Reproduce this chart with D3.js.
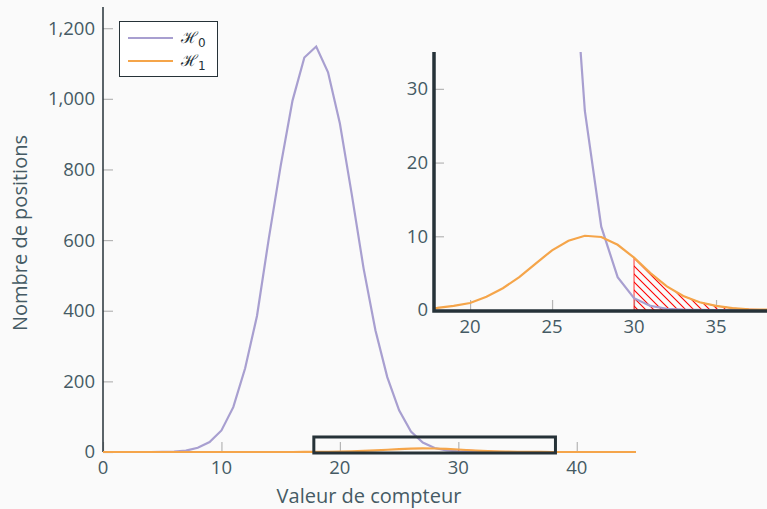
<!DOCTYPE html>
<html>
<head>
<meta charset="utf-8">
<script src="https://cdn.jsdelivr.net/npm/d3@7"></script>
<style>
  body { margin: 0; background: #fafafa; }
  svg { display: block; font-family: 'Open Sans', sans-serif; }
</style>
</head>
<body>
<svg id="chart" width="767" height="509"></svg>
<script>
// valeurs de compteur 0..45
const counts = d3.range(0, 46);
const h0 = [0, 0, 0, 0, 0, 0.3, 1, 4, 12, 28, 61, 127, 237, 385, 605, 810, 995, 1117, 1148,
  1075, 930, 730, 520, 345, 212, 118, 58, 27, 11.3, 4.45, 1.6, 0.55, 0.17, 0.05, 0.01,
  0, 0, 0, 0, 0, 0, 0, 0, 0, 0, 0];
const h1 = [0, 0, 0, 0, 0, 0, 0, 0, 0, 0, 0, 0, 0, 0, 0, 0.02, 0.05, 0.12, 0.3,
  0.55, 0.95, 1.8, 2.95, 4.45, 6.3, 8.1, 9.4, 10.07, 9.9, 8.85, 7.1, 5.0, 3.2, 1.9, 1.05,
  0.55, 0.25, 0.1, 0.05, 0.02, 0, 0, 0, 0, 0, 0];
const mainYTicks = [0, 200, 400, 600, 800, 1000, 1200];
const mainXTicks = [0, 10, 20, 30, 40];
const insetYTicks = [0, 10, 20, 30];
const insetXTicks = [20, 25, 30, 35];
const seuil = 30;
const legendLabels = ['0', '1'];

const colH0 = '#a89fd0';
const colH1 = '#f5a54a';
const dark = '#263238';
const textCol = '#455a64';

const svg = d3.select('#chart');

// hachures
const defs = svg.append('defs');
defs.append('pattern')
  .attr('id', 'hatch')
  .attr('patternUnits', 'userSpaceOnUse')
  .attr('width', 8).attr('height', 8)
  .append('path')
  .attr('d', 'M0,0L8,8M-2,6L2,10M6,-2L10,2')
  .attr('stroke', 'red').attr('stroke-width', 1.1);

const pts = counts.map((c, i) => ({ x: c, a: h0[i], b: h1[i] }));
const tail = pts.filter(d => d.x >= seuil && d.x <= 38);

// --- graphique principal ---
const x = d3.scaleLinear().domain([0, 45]).range([103, 636]);
const y = d3.scaleLinear().domain([0, 1260]).range([452, 7]);

const lineA = d3.line().x(d => x(d.x)).y(d => y(d.a));
const lineB = d3.line().x(d => x(d.x)).y(d => y(d.b));

// ticks internes gris
svg.append('g')
  .attr('transform', 'translate(103,0)')
  .call(d3.axisRight(y).tickValues(mainYTicks).tickSize(10).tickFormat(''))
  .call(g => g.select('.domain').remove())
  .call(g => g.selectAll('line').attr('stroke', '#b5b5b5').attr('stroke-width', 1.2));
svg.append('g')
  .attr('transform', 'translate(0,452)')
  .call(d3.axisTop(x).tickValues(mainXTicks).tickSize(10).tickFormat(''))
  .call(g => g.select('.domain').remove())
  .call(g => g.selectAll('line').attr('stroke', '#b5b5b5').attr('stroke-width', 1.2));

svg.append('g').selectAll('text')
  .data(mainYTicks).join('text')
  .attr('x', 95).attr('y', d => y(d)).attr('dy', '0.35em')
  .attr('text-anchor', 'end')
  .attr('font-size', 18.5).attr('fill', textCol)
  .text(d => d3.format(',')(d));
svg.append('g').selectAll('text')
  .data(mainXTicks).join('text')
  .attr('x', d => x(d)).attr('y', 474)
  .attr('text-anchor', 'middle')
  .attr('font-size', 18.5).attr('fill', textCol)
  .text(d => d);

svg.append('line')
  .attr('x1', 103).attr('x2', 103).attr('y1', 7).attr('y2', 452)
  .attr('stroke', dark).attr('stroke-width', 1.5);

svg.append('path')
  .datum(tail)
  .attr('d', d3.area().x(d => x(d.x)).y0(y(0)).y1(d => y(d.b)))
  .attr('fill', 'url(#hatch)').attr('stroke', 'red').attr('stroke-width', 0.8);

svg.append('path').datum(pts).attr('d', lineA)
  .attr('fill', 'none').attr('stroke', colH0).attr('stroke-width', 2.2);
svg.append('path').datum(pts).attr('d', lineB)
  .attr('fill', 'none').attr('stroke', colH1).attr('stroke-width', 2.2);

// cadre du zoom
svg.append('rect')
  .attr('x', x(17.8)).attr('y', y(42.5))
  .attr('width', x(38.2) - x(17.8)).attr('height', y(-2.8) - y(42.5))
  .attr('fill', 'none').attr('stroke', dark).attr('stroke-width', 3);

svg.append('text')
  .attr('transform', 'translate(27,233) rotate(-90)')
  .attr('text-anchor', 'middle')
  .attr('font-size', 20).attr('fill', textCol)
  .text('Nombre de positions');
svg.append('text')
  .attr('x', 369).attr('y', 503)
  .attr('text-anchor', 'middle')
  .attr('font-size', 20).attr('fill', textCol)
  .text('Valeur de compteur');

// légende
const leg = svg.append('g');
leg.append('rect')
  .attr('x', 119.5).attr('y', 21.5).attr('width', 98).attr('height', 55)
  .attr('fill', 'white').attr('stroke', dark).attr('stroke-width', 1);
[colH0, colH1].forEach((c, i) => {
  const ly = 38 + i * 23;
  leg.append('line')
    .attr('x1', 128).attr('x2', 173).attr('y1', ly).attr('y2', ly)
    .attr('stroke', c).attr('stroke-width', 2.2);
  const t = leg.append('text')
    .attr('x', 181).attr('y', ly + 5)
    .attr('font-size', 16).attr('fill', dark)
    .attr('font-family', 'DejaVu Serif, serif');
  t.append('tspan').text('\u210B');
  t.append('tspan').attr('dy', 4).attr('font-size', 12)
    .attr('font-family', 'DejaVu Sans, sans-serif').text(legendLabels[i]);
});

// --- encart ---
const xi = d3.scaleLinear().domain([17.8, 38.2]).range([434, 768.5]);
const yi = d3.scaleLinear().domain([0, 35]).range([310, 52]);

defs.append('clipPath').attr('id', 'clipInset')
  .append('rect').attr('x', 434).attr('y', 52).attr('width', 340).attr('height', 260);

const inset = svg.append('g');

inset.append('g')
  .attr('transform', 'translate(434,0)')
  .call(d3.axisRight(yi).tickValues(insetYTicks).tickSize(10).tickFormat(''))
  .call(g => g.select('.domain').remove())
  .call(g => g.selectAll('line').attr('stroke', '#b5b5b5').attr('stroke-width', 1.2));
inset.append('g')
  .attr('transform', 'translate(0,310)')
  .call(d3.axisTop(xi).tickValues(insetXTicks).tickSize(10).tickFormat(''))
  .call(g => g.select('.domain').remove())
  .call(g => g.selectAll('line').attr('stroke', '#b5b5b5').attr('stroke-width', 1.2));

inset.append('g').selectAll('text')
  .data(insetYTicks).join('text')
  .attr('x', 428).attr('y', d => yi(d)).attr('dy', '0.35em')
  .attr('text-anchor', 'end')
  .attr('font-size', 18.5).attr('fill', textCol)
  .text(d => d);
inset.append('g').selectAll('text')
  .data(insetXTicks).join('text')
  .attr('x', d => xi(d)).attr('y', 333)
  .attr('text-anchor', 'middle')
  .attr('font-size', 18.5).attr('fill', textCol)
  .text(d => d);

const plot = inset.append('g').attr('clip-path', 'url(#clipInset)');
plot.append('path')
  .datum(tail)
  .attr('d', d3.area().x(d => xi(d.x)).y0(yi(0)).y1(d => yi(d.b)))
  .attr('fill', 'url(#hatch)').attr('stroke', 'red').attr('stroke-width', 0.8);
plot.append('path').datum(pts)
  .attr('d', d3.line().x(d => xi(d.x)).y(d => yi(d.a)))
  .attr('fill', 'none').attr('stroke', colH0).attr('stroke-width', 2.2);
plot.append('path').datum(pts)
  .attr('d', d3.line().x(d => xi(d.x)).y(d => yi(d.b)))
  .attr('fill', 'none').attr('stroke', colH1).attr('stroke-width', 2.2);

inset.append('path')
  .attr('d', `M434,52V311H767`)
  .attr('fill', 'none').attr('stroke', dark).attr('stroke-width', 3.5);
</script>
</body>
</html>
